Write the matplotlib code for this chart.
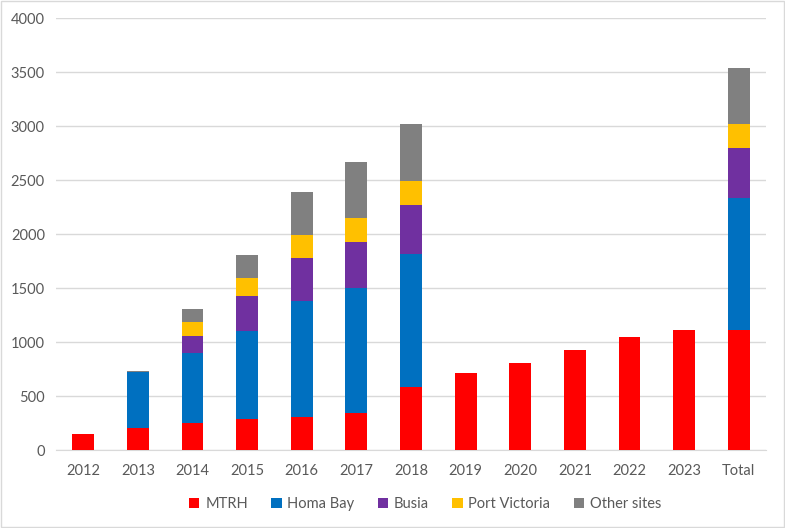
import numpy as np
import matplotlib.pyplot as plt
from matplotlib.patches import Rectangle

categories = ['2012', '2013', '2014', '2015', '2016', '2017', '2018',
              '2019', '2020', '2021', '2022', '2023', 'Total']
mtrh = [150, 200, 253, 287, 306, 340, 588, 716, 810, 930, 1046, 1112, 1112]
homa_bay = [0, 522, 643, 815, 1072, 1163, 1226, 0, 0, 0, 0, 0, 1226]
busia = [0, 0, 160, 321, 398, 420, 455, 0, 0, 0, 0, 0, 455]
port_victoria = [0, 0, 129, 170, 213, 222, 225, 0, 0, 0, 0, 0, 225]
other_sites = [0, 10, 121, 209, 398, 522, 522, 0, 0, 0, 0, 0, 522]

series = [('MTRH', mtrh, '#FF0000'),
          ('Homa Bay', homa_bay, '#0070C0'),
          ('Busia', busia, '#7030A0'),
          ('Port Victoria', port_victoria, '#FFC000'),
          ('Other sites', other_sites, '#808080')]

plt.rcParams['font.family'] = ['Lato', 'DejaVu Sans']
text_col = '#595959'

fig = plt.figure(figsize=(7.85, 5.28), dpi=100)
ax = fig.add_axes([0.0713, 0.1477, 0.9045, 0.8182])

x = np.arange(len(categories))
bottom = np.zeros(len(categories))
for name, vals, col in series:
    vals = np.array(vals, dtype=float)
    ax.bar(x, vals, 0.4, bottom=bottom, color=col, label=name, zorder=3)
    bottom += vals

ax.set_xlim(-0.5, len(categories) - 0.5)
ax.set_ylim(0, 4000)
ax.set_yticks(np.arange(0, 4001, 500))
ax.set_xticks(x)
ax.set_xticklabels(categories)
ax.tick_params(length=0, labelsize=10.5, colors=text_col)
ax.tick_params(axis='x', pad=10)
ax.tick_params(axis='y', pad=8)
ax.yaxis.grid(True, color='#D9D9D9', linewidth=1, zorder=0)
for s in ['top', 'right', 'left']:
    ax.spines[s].set_visible(False)
ax.spines['bottom'].set_color('#D9D9D9')

leg = ax.legend(loc='center', bbox_to_anchor=(0.52, -0.125), ncol=5, frameon=False,
                handlelength=0.7, handleheight=0.7, handletextpad=0.4,
                columnspacing=1.6, fontsize=10.5)
for t in leg.get_texts():
    t.set_color(text_col)

fig.patches.append(Rectangle((0.001, 0.001), 0.998, 0.998, transform=fig.transFigure,
                             fill=False, edgecolor='#D9D9D9', linewidth=1))

fig.savefig('out.png', dpi=100)
